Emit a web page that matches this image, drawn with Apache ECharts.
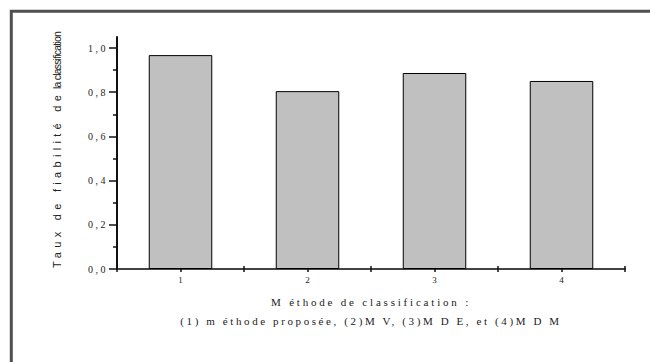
<!DOCTYPE html>
<html>
<head>
<meta charset="utf-8">
<script src="https://cdn.jsdelivr.net/npm/echarts@6/dist/echarts.min.js"></script>
<style>
html,body{margin:0;padding:0;background:#fff;}
#chart{width:650px;height:362px;}
</style>
</head>
<body>
<div id="chart"></div>
<script>
const categories = ['1', '2', '3', '4'];
const values = [0.968, 0.805, 0.887, 0.851];
const majorTicks = [0, 0.2, 0.4, 0.6, 0.8, 1.0];
const minorTicks = [0.1, 0.3, 0.5, 0.7, 0.9];
const yNameParts = ['Taux de fiabilité de', 'la classification'];
const xNameLines = ['M éthode de classification :', '(1) m éthode proposée, (2)M V, (3)M D E, et (4)M D M'];

const chart = echarts.init(document.getElementById('chart'), null, {renderer: 'svg'});
const serif = 'Liberation Serif, Times New Roman, serif';
const sans = 'Liberation Sans, Arial, sans-serif';

chart.setOption({
  animation: false,
  backgroundColor: '#fff',
  grid: {left: 117, right: 25, top: 37, bottom: 93},
  graphic: [{
    type: 'rect', silent: true,
    shape: {x: 11.3, y: 11.3, width: 700, height: 400},
    style: {fill: 'none', stroke: '#505050', lineWidth: 3}
  }, {
    type: 'text', silent: true, x: 57, y: 268, rotation: Math.PI / 2,
    style: {text: yNameParts[0], font: '11px ' + sans, fill: '#222', align: 'left', verticalAlign: 'middle'}
  }, {
    type: 'text', silent: true, x: 57, y: 89, rotation: Math.PI / 2,
    style: {text: yNameParts[1], font: '10.5px ' + sans, fill: '#222', align: 'left', verticalAlign: 'middle'}
  }],
  xAxis: [{
    type: 'category', data: categories, boundaryGap: true,
    axisLine: {lineStyle: {color: '#444', width: 2}},
    axisTick: {show: true, length: 3, lineStyle: {color: '#111', width: 1.5}},
    axisLabel: {fontFamily: serif, fontSize: 9, color: '#222', margin: 6},
    name: xNameLines.join('\n'), nameLocation: 'middle', nameGap: 23,
    nameTextStyle: {fontFamily: serif, fontSize: 11, color: '#222', lineHeight: 19},
    splitLine: {show: false}
  }, {
    type: 'category', data: categories, boundaryGap: true, position: 'bottom', offset: 0,
    axisLine: {show: false},
    axisTick: {show: true, alignWithLabel: true, length: 3, lineStyle: {color: '#111', width: 1.5}},
    axisLabel: {show: false}, splitLine: {show: false}
  }, {
    type: 'category', data: categories, boundaryGap: true, position: 'bottom', offset: 0,
    axisLine: {show: false},
    axisTick: {show: true, inside: true, length: 3, lineStyle: {color: '#111', width: 1.5}},
    axisLabel: {show: false}, splitLine: {show: false}
  }],
  yAxis: [{
    type: 'value', min: 0, max: 1.05,
    axisLine: {show: true, lineStyle: {color: '#111', width: 2}},
    axisTick: {show: true, length: 8, customValues: majorTicks, lineStyle: {color: '#111', width: 1.5}},
    axisLabel: {customValues: majorTicks, fontFamily: serif, fontSize: 10, color: '#222', margin: 9,
      formatter: v => v.toFixed(1).replace('.', ',')},
    splitLine: {show: false}
  }, {
    type: 'value', min: 0, max: 1.05, position: 'left', offset: 0,
    axisLine: {show: false},
    axisTick: {show: true, length: 4, customValues: minorTicks, lineStyle: {color: '#111', width: 1.5}},
    axisLabel: {show: false}, splitLine: {show: false}
  }],
  series: [{
    type: 'bar', data: values, xAxisIndex: 0, yAxisIndex: 0, barWidth: '50%',
    itemStyle: {color: '#c0c0c0', borderColor: '#000', borderWidth: 1}
  }]
});

function applySpacing() {
  document.querySelectorAll('#chart text').forEach(t => {
    const s = t.textContent;
    let ls = null;
    if (s === yNameParts[0]) ls = '4.3px';
    else if (s === yNameParts[1]) ls = '-0.8px';
    else if (s.startsWith('M éth')) ls = '2.8px';
    else if (s.startsWith('(1)')) ls = '2.6px';
    else if (/^\d,\d$/.test(s)) ls = '2.5px';
    if (ls) t.style.letterSpacing = ls;
  });
}
applySpacing();
chart.on('finished', applySpacing);
setTimeout(applySpacing, 0);
requestAnimationFrame(applySpacing);
</script>
</body>
</html>
